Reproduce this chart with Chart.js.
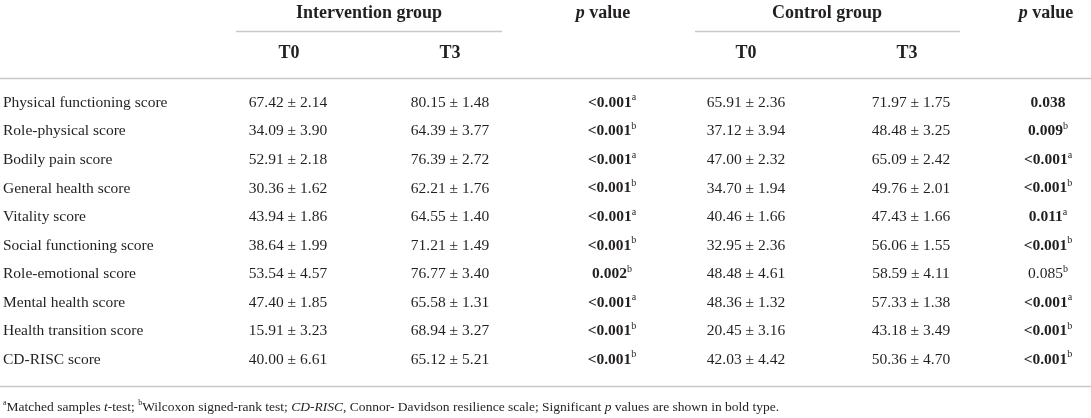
<!DOCTYPE html>
<html>
<head>
<meta charset="utf-8">
<script src="https://cdn.jsdelivr.net/npm/chart.js@4.4.1/dist/chart.umd.min.js"></script>
<style>
  html, body { margin: 0; padding: 0; background: #fff; }
  #wrap { width: 1091px; height: 418px; position: relative; }
</style>
</head>
<body>
<div id="wrap"><canvas id="tbl"></canvas></div>
<script>
// table data
const rowNames = ["Physical functioning score", "Role-physical score", "Bodily pain score",
  "General health score", "Vitality score", "Social functioning score", "Role-emotional score",
  "Mental health score", "Health transition score", "CD-RISC score"];

const intT0Mean = [67.42, 34.09, 52.91, 30.36, 43.94, 38.64, 53.54, 47.40, 15.91, 40.00];
const intT0Sd   = [2.14, 3.90, 2.18, 1.62, 1.86, 1.99, 4.57, 1.85, 3.23, 6.61];
const intT3Mean = [80.15, 64.39, 76.39, 62.21, 64.55, 71.21, 76.77, 65.58, 68.94, 65.12];
const intT3Sd   = [1.48, 3.77, 2.72, 1.76, 1.40, 1.49, 3.40, 1.31, 3.27, 5.21];
const intP      = ["<0.001", "<0.001", "<0.001", "<0.001", "<0.001", "<0.001", "0.002", "<0.001", "<0.001", "<0.001"];
const intTest   = ["a", "b", "a", "b", "a", "b", "b", "a", "b", "b"];

const ctrlT0Mean = [65.91, 37.12, 47.00, 34.70, 40.46, 32.95, 48.48, 48.36, 20.45, 42.03];
const ctrlT0Sd   = [2.36, 3.94, 2.32, 1.94, 1.66, 2.36, 4.61, 1.32, 3.16, 4.42];
const ctrlT3Mean = [71.97, 48.48, 65.09, 49.76, 47.43, 56.06, 58.59, 57.33, 43.18, 50.36];
const ctrlT3Sd   = [1.75, 3.25, 2.42, 2.01, 1.66, 1.55, 4.11, 1.38, 3.49, 4.70];
const ctrlP      = ["0.038", "0.009", "<0.001", "<0.001", "0.011", "<0.001", "0.085", "<0.001", "<0.001", "<0.001"];
const ctrlTest   = ["", "b", "a", "b", "a", "b", "b", "a", "b", "b"];

const groupHeads = ["Intervention group", "Control group"];
const timeHeads = ["T0", "T3"];

// layout (scale units: x = px across, y = row index)
const colX = { label: 3, intT0: 288, intT3: 450, intP: 612, ctrlT0: 746, ctrlT3: 911, ctrlP: 1048 };
const headX = { intGroup: 369, intP: 603, ctrlGroup: 827, ctrlP: 1046, intT0: 289, intT3: 450, ctrlT0: 746, ctrlT3: 907 };
const rowY = { group: -3.13, time: -1.72, foot: 10.68 };
const rules = [
  { y: -2.51, x0: 236, x1: 502 },
  { y: -2.51, x0: 695, x1: 960 },
  { y: -0.87, x0: 0, x1: 1091 },
  { y: 9.92, x0: 0, x1: 1091 }
];

const SERIF = '"Liberation Serif", "DejaVu Serif", serif';
const INK = '#231f20';
const BODY = 15.5, HEAD = 18, FOOT = 13.5;

function meanSd(m, s) { return m.map((v, i) => v.toFixed(2) + ' \u00b1 ' + s[i].toFixed(2)); }
function isSig(p) { return parseFloat(p.replace('<', '')) < 0.05; }

function pCells(p, t) {
  return p.map((v, i) => [{ t: v, w: isSig(v) ? 'bold' : 'normal' }, { t: t[i], sup: true }]);
}
function plainCells(arr, w) { return arr.map(v => [{ t: v, w: w || 'normal' }]); }

function colSet(x, cells, align) {
  return {
    data: cells.map((c, i) => ({ x: x, y: i })),
    cells: cells, align: align || 'center', pointRadius: 0
  };
}
function headSet(items) {
  return {
    data: items.map(it => ({ x: it.x, y: it.y })),
    cells: items.map(it => it.cells), align: 'center', pointRadius: 0
  };
}

const pHead = [{ t: 'p', w: 'bold', i: true }, { t: ' value', w: 'bold' }];
const hd = s => Object.assign({ size: HEAD }, s);
const headers = [
  { x: headX.intGroup, y: rowY.group, cells: [hd({ t: groupHeads[0], w: 'bold' })] },
  { x: headX.ctrlGroup, y: rowY.group, cells: [hd({ t: groupHeads[1], w: 'bold' })] },
  { x: headX.intP, y: rowY.group, cells: pHead.map(hd) },
  { x: headX.ctrlP, y: rowY.group, cells: pHead.map(hd) },
  { x: headX.intT0, y: rowY.time, cells: [hd({ t: timeHeads[0], w: 'bold' })] },
  { x: headX.intT3, y: rowY.time, cells: [hd({ t: timeHeads[1], w: 'bold' })] },
  { x: headX.ctrlT0, y: rowY.time, cells: [hd({ t: timeHeads[0], w: 'bold' })] },
  { x: headX.ctrlT3, y: rowY.time, cells: [hd({ t: timeHeads[1], w: 'bold' })] }
];

const footnote = [
  { t: 'a', sup: true }, { t: 'Matched samples ' }, { t: 't', i: true }, { t: '-test; ' },
  { t: 'b', sup: true }, { t: 'Wilcoxon signed-rank test; ' }, { t: 'CD-RISC', i: true },
  { t: ', Connor- Davidson resilience scale; Significant ' }, { t: 'p', i: true },
  { t: ' values are shown in bold type.' }
].map(s => Object.assign({ size: FOOT }, s));

function fontOf(s) {
  const size = s.sup ? Math.round((s.size || BODY) * 0.62) : (s.size || BODY);
  return (s.i ? 'italic ' : '') + (s.w === 'bold' ? 'bold ' : '') + size + 'px ' + SERIF;
}
function drawRich(ctx, segs, x, y, align) {
  let total = 0;
  segs.forEach(s => { ctx.font = fontOf(s); total += ctx.measureText(s.t).width; });
  let cx = align === 'left' ? x : x - total / 2;
  segs.forEach(s => {
    ctx.font = fontOf(s);
    ctx.fillText(s.t, cx, s.sup ? y - 5 : y);
    cx += ctx.measureText(s.t).width;
  });
}

const tablePainter = {
  id: 'tablePainter',
  beforeDatasetsDraw(chart) {
    const ctx = chart.ctx, xs = chart.scales.x, ys = chart.scales.y;
    ctx.save();
    ctx.strokeStyle = '#c8c8c8';
    ctx.lineWidth = 1.5;
    rules.forEach(r => {
      const py = Math.round(ys.getPixelForValue(r.y)) + 0.5;
      ctx.beginPath();
      ctx.moveTo(xs.getPixelForValue(r.x0), py);
      ctx.lineTo(xs.getPixelForValue(r.x1), py);
      ctx.stroke();
    });
    ctx.restore();
  },
  afterDatasetsDraw(chart) {
    const ctx = chart.ctx;
    ctx.save();
    ctx.fillStyle = INK;
    ctx.textAlign = 'left';
    ctx.textBaseline = 'middle';
    chart.data.datasets.forEach((ds, di) => {
      chart.getDatasetMeta(di).data.forEach((pt, i) => {
        drawRich(ctx, ds.cells[i], pt.x, pt.y, ds.align);
      });
    });
    ctx.restore();
  }
};

new Chart(document.getElementById('tbl').getContext('2d'), {
  type: 'scatter',
  data: {
    datasets: [
      colSet(colX.label, plainCells(rowNames), 'left'),
      colSet(colX.intT0, plainCells(meanSd(intT0Mean, intT0Sd))),
      colSet(colX.intT3, plainCells(meanSd(intT3Mean, intT3Sd))),
      colSet(colX.intP, pCells(intP, intTest)),
      colSet(colX.ctrlT0, plainCells(meanSd(ctrlT0Mean, ctrlT0Sd))),
      colSet(colX.ctrlT3, plainCells(meanSd(ctrlT3Mean, ctrlT3Sd))),
      colSet(colX.ctrlP, pCells(ctrlP, ctrlTest)),
      headSet(headers),
      { data: [{ x: colX.label, y: rowY.foot }], cells: [footnote], align: 'left', pointRadius: 0 }
    ]
  },
  options: {
    responsive: true,
    maintainAspectRatio: false,
    animation: false,
    events: [],
    layout: { padding: 0 },
    plugins: { legend: { display: false }, tooltip: { enabled: false } },
    scales: {
      x: { type: 'linear', min: 0, max: 1091, display: false },
      y: { type: 'linear', min: -3.6, max: 11.04, reverse: true, display: false }
    }
  },
  plugins: [tablePainter]
});
</script>
</body>
</html>
